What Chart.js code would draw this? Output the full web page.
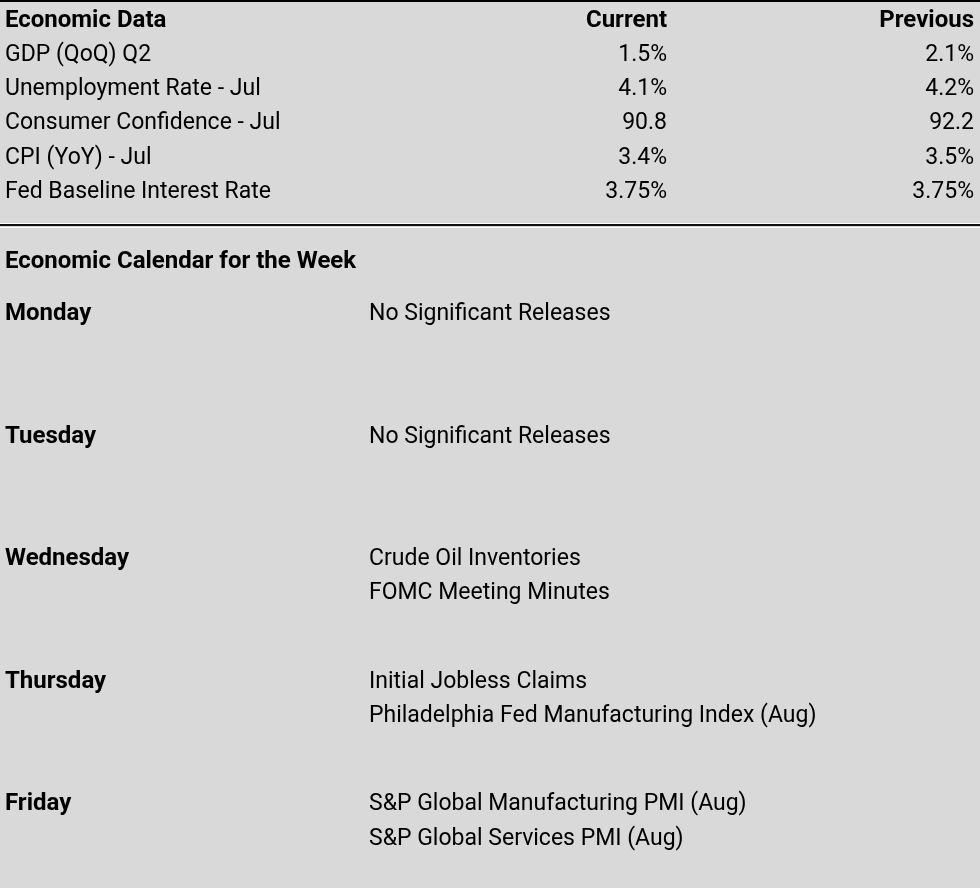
<!DOCTYPE html>
<html>
<head>
<meta charset="utf-8">
<script src="https://cdn.jsdelivr.net/npm/chart.js@4"></script>
<style>
  html, body { margin: 0; padding: 0; background: #d9d9d9; }
  canvas { display: block; }
</style>
</head>
<body>
<canvas id="econ-chart" width="980" height="888"></canvas>
<script>
// table contents
const headers = ['Economic Data', 'Current', 'Previous'];
const econLabels = ['GDP (QoQ) Q2', 'Unemployment Rate - Jul', 'Consumer Confidence - Jul', 'CPI (YoY) - Jul', 'Fed Baseline Interest Rate'];
const currentValues = ['1.5%', '4.1%', '90.8', '3.4%', '3.75%'];
const previousValues = ['2.1%', '4.2%', '92.2', '3.5%', '3.75%'];

const calendarTitle = 'Economic Calendar for the Week';
const weekDays = ['Monday', 'Tuesday', 'Wednesday', 'Thursday', 'Friday'];
const dayEvents = [
  ['No Significant Releases'],
  ['No Significant Releases'],
  ['Crude Oil Inventories', 'FOMC Meeting Minutes'],
  ['Initial Jobless Claims', 'Philadelphia Fed Manufacturing Index (Aug)'],
  ['S&P Global Manufacturing PMI (Aug)', 'S&P Global Services PMI (Aug)']
];

// layout (x in px units, y in row units)
const colLabel = 5, colCurrent = 667, colPrevious = 974, colEvent = 369;
const firstRow = 0.79, separatorRow = 6.59, calTitleRow = 7.85, firstDayRow = 9.37, dayStep = 3.59;

const fontFamily = 'Roboto, "Noto Sans", sans-serif';
const bodyFont = '23px ' + fontFamily;
const boldFont = 'bold 24px ' + fontFamily;

function textSet(items, font, align) {
  return { data: items, font: font, align: align, pointRadius: 0, pointHoverRadius: 0 };
}

const headerCells = [
  { x: colLabel, y: firstRow, text: headers[0] }
];
const headerRight = [
  { x: colCurrent, y: firstRow, text: headers[1] },
  { x: colPrevious, y: firstRow, text: headers[2] }
];
const labelCells = econLabels.map(function(t, i) { return { x: colLabel, y: firstRow + i + 1, text: t }; });
const valueCells = currentValues.map(function(t, i) { return { x: colCurrent, y: firstRow + i + 1, text: t }; })
  .concat(previousValues.map(function(t, i) { return { x: colPrevious, y: firstRow + i + 1, text: t }; }));

const dayCells = [{ x: colLabel, y: calTitleRow, text: calendarTitle }]
  .concat(weekDays.map(function(d, i) { return { x: colLabel, y: firstDayRow + i * dayStep, text: d }; }));
const eventCells = [];
dayEvents.forEach(function(list, i) {
  list.forEach(function(t, j) {
    eventCells.push({ x: colEvent, y: firstDayRow + i * dayStep + j, text: t });
  });
});

const cellText = {
  id: 'cellText',
  afterDatasetsDraw: function(chart) {
    const ctx = chart.ctx;
    const y = chart.scales.y;
    ctx.save();
    // borders
    ctx.fillStyle = '#000';
    ctx.fillRect(0, 0, chart.width, 2);
    const sy = Math.round(y.getPixelForValue(separatorRow));
    ctx.fillStyle = '#ffffff';
    ctx.fillRect(0, sy - 2, chart.width, 1);
    ctx.fillRect(0, sy + 2, chart.width, 1);
    ctx.fillStyle = '#111';
    ctx.fillRect(0, sy - 1, chart.width, 2);

    ctx.fillStyle = '#000';
    ctx.textBaseline = 'alphabetic';
    chart.data.datasets.forEach(function(ds, i) {
      const meta = chart.getDatasetMeta(i);
      ctx.font = ds.font;
      ctx.textAlign = ds.align;
      meta.data.forEach(function(pt, j) {
        ctx.fillText(ds.data[j].text, pt.x, pt.y);
      });
    });
    ctx.restore();
  }
};

new Chart(document.getElementById('econ-chart'), {
  type: 'scatter',
  data: {
    datasets: [
      textSet(headerCells, boldFont, 'left'),
      textSet(headerRight, boldFont, 'right'),
      textSet(labelCells, bodyFont, 'left'),
      textSet(valueCells, bodyFont, 'right'),
      textSet(dayCells.slice(0, 1), boldFont, 'left'),
      textSet(dayCells.slice(1), boldFont, 'left'),
      textSet(eventCells, bodyFont, 'left')
    ]
  },
  options: {
    responsive: false,
    animation: false,
    layout: { padding: 0 },
    scales: {
      x: { type: 'linear', min: 0, max: 980, display: false },
      y: { type: 'linear', min: 0, max: 26, reverse: true, display: false }
    },
    plugins: {
      legend: { display: false },
      tooltip: { enabled: false }
    }
  },
  plugins: [cellText]
});
</script>
</body>
</html>
